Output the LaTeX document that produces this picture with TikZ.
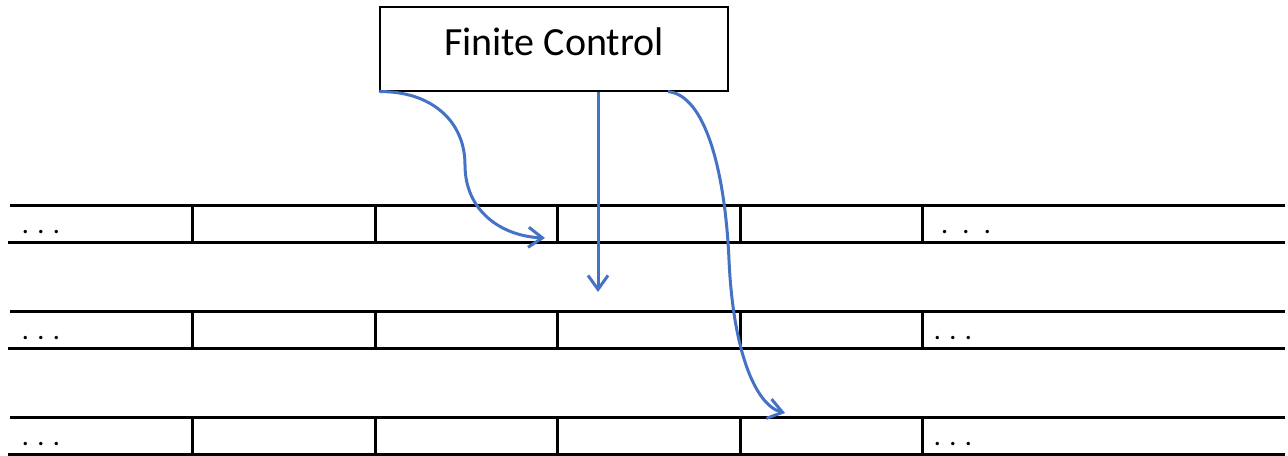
\documentclass[tikz,border=0pt]{standalone}
\usepackage{fontspec}
\setmainfont{Carlito}
\usetikzlibrary{arrows.meta}
\begin{document}
\begin{tikzpicture}[x=0.5pt,y=-0.5pt,
	tape/.style={line width=1.5pt},
	move/.style={draw={rgb,255:red,68;green,114;blue,196}, line width=1.5pt, -{Straight Barb[length=7pt,width=10pt]}},
	dots/.style={font=\fontsize{14}{16}\selectfont, inner sep=0pt}]
	\useasboundingbox (0,0) rectangle (1288,455);
	\node[draw, line width=0.6pt, minimum width=174pt, minimum height=42pt, text depth=7pt, font=\fontsize{20}{24}\selectfont] (fc) at (554,49) {Finite Control};
	
	% three tapes
	\foreach \t in {205,311,417} {
		\draw[tape] (10,\t) -- (1285,\t);
		\draw[tape] (8,\t+37) -- (1285,\t+37);
		\foreach \x in {192,375,557,740,922}
			\draw[tape] (\x,\t) -- (\x,\t+37);
	}
	
	\node[dots] (l1) at (41,232) {. . .};
	\node[dots] (l2) at (41,338) {. . .};
	\node[dots] (l3) at (41,444) {. . .};
	\node[dots] (r1) at (966,232) {.\hspace{7.2pt}.\hspace{7.2pt}.};
	\node[dots] (r2) at (953,338) {. . .};
	\node[dots] (r3) at (953,444) {. . .};
	
	% head moves
	\coordinate (h1) at (545,238);
	\coordinate (h2) at (598,292);
	\coordinate (h3) at (785,413);
	\draw[move] (fc.south west) .. controls (430,91) and (465,120) .. (465,165) .. controls (465,210) and (500,236) .. (h1);
	\draw[move] ([xshift=22pt]fc.south) -- (h2);
	\draw[move] ([xshift=57pt]fc.south) .. controls (705,95) and (725,170) .. (729,260) .. controls (733,350) and (755,405) .. (h3);
\end{tikzpicture}
\end{document}
